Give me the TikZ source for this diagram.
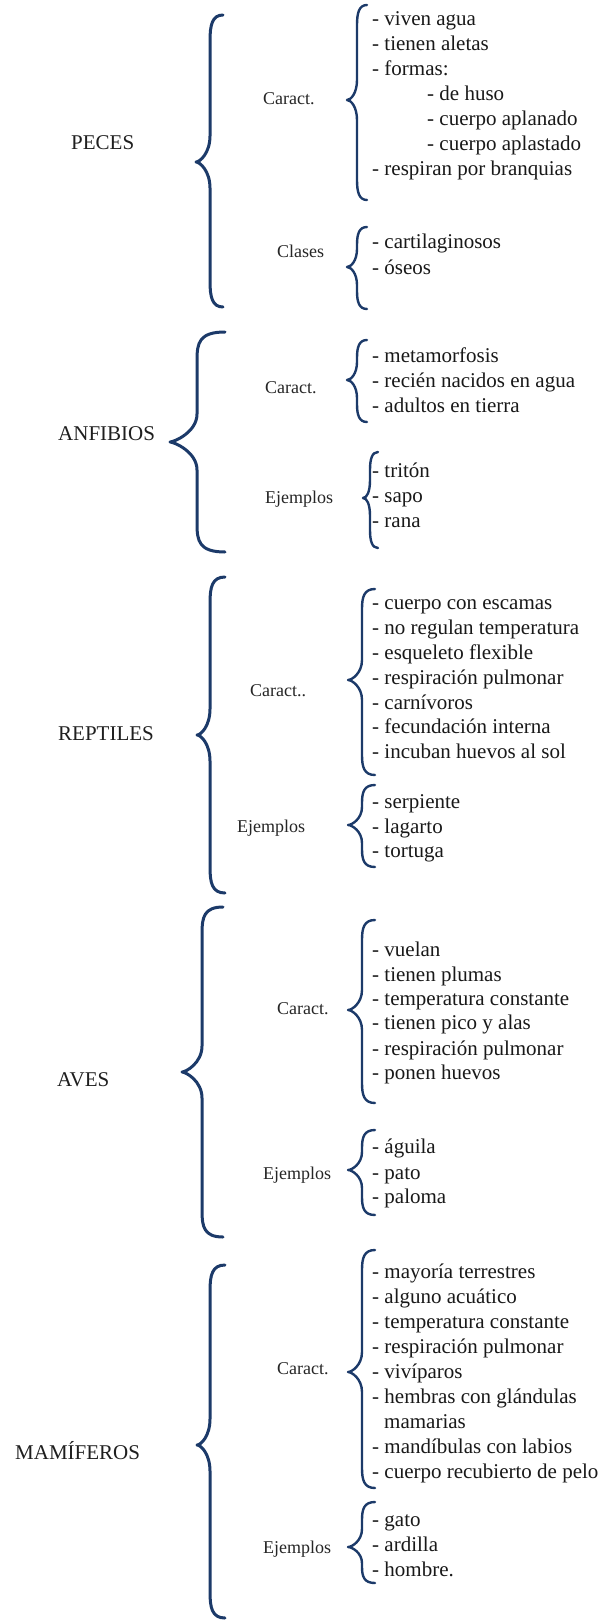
\documentclass[tikz,border=0pt]{standalone}
\usepackage{fontspec}
\setmainfont{Liberation Serif}
\definecolor{navyb}{RGB}{28,58,105}
\tikzset{
  brc/.style={draw=navyb, line width=2.4pt, line cap=round, line join=round},
  bigbrc/.style={brc, line width=3pt},
  item/.style={anchor=base west, inner sep=0pt, font=\fontsize{21}{25}\selectfont, text=black!90},
  cat/.style={anchor=base west, inner sep=0pt, font=\fontsize{21}{25}\selectfont, text=black!88},
  sub/.style={anchor=base west, inner sep=0pt, font=\fontsize{18}{22}\selectfont, text=black!85},
}
% #1 style, #2 tip x, #3 line x, #4 hook x, #5 top y, #6 tip y, #7 bottom y, #8 max curve size
\newcommand{\cbrace}[8]{%
  \pgfmathsetmacro{\hk}{min(#8,(#6-#5)*0.45)}%
  \pgfmathsetmacro{\hl}{min(#8,(#7-#6)*0.45)}%
  \draw[#1] (#4,#5) .. controls ({#3+2},#5) and (#3,{#5+\hk*0.4}) .. (#3,{#5+\hk})
    -- (#3,{#6-\hk}) .. controls (#3,{#6-\hk*0.35}) and ({#2+4},#6) .. (#2,#6)
    .. controls ({#2+4},#6) and (#3,{#6+\hl*0.35}) .. (#3,{#6+\hl})
    -- (#3,{#7-\hl}) .. controls (#3,{#7-\hl*0.4}) and ({#3+2},#7) .. (#4,#7);
}
\begin{document}
\begin{tikzpicture}[x=1pt,y=-1pt]
\fill[white] (0,0) rectangle (603,1621);
\useasboundingbox (0,0) rectangle (603,1621);

% ---------- main labels
\node[cat] (peces) at (71,150) {PECES};
\node[cat] (anfibios) at (58,440) {ANFIBIOS};
\node[cat] (reptiles) at (58,740) {REPTILES};
\node[cat] (aves) at (57,1086) {AVES};
\node[cat] (mamiferos) at (15,1459) {MAMÍFEROS};

% ---------- sub labels
\node[sub] (pcar) at (263,105) {Caract.};
\node[sub] (pcla) at (277,258) {Clases};
\node[sub] (acar) at (265,393) {Caract.};
\node[sub] (aej) at (265,503) {Ejemplos};
\node[sub] (rcar) at (250,696) {Caract..};
\node[sub] (rej) at (237,832) {Ejemplos};
\node[sub] (vcar) at (277,1014) {Caract.};
\node[sub] (vej) at (263,1179) {Ejemplos};
\node[sub] (mcar) at (277,1374) {Caract.};
\node[sub] (mej) at (263,1553) {Ejemplos};

% ---------- big braces
\cbrace{bigbrc}{196}{210}{223}{15}{162}{307}{26}
\cbrace{bigbrc}{170}{197}{225}{332}{442}{552}{28}
\cbrace{bigbrc}{197}{210}{225}{577}{735}{893}{26}
\cbrace{bigbrc}{182}{202}{223}{907}{1072}{1237}{26}
\cbrace{bigbrc}{197}{210}{225}{1265}{1445}{1618}{26}

% ---------- small braces
\cbrace{brc}{347}{357}{367}{5}{100}{200}{20}
\cbrace{brc}{347}{357}{367}{227}{267}{309}{18}
\cbrace{brc}{347}{357}{367}{340}{380}{422}{18}
\cbrace{brc}{363}{370}{378}{452}{498}{548}{18}
\cbrace{brc}{348}{362}{375}{589}{680}{775}{20}
\cbrace{brc}{348}{362}{375}{785}{825}{867}{18}
\cbrace{brc}{348}{362}{375}{920}{1010}{1103}{20}
\cbrace{brc}{348}{362}{375}{1130}{1170}{1215}{18}
\cbrace{brc}{348}{362}{375}{1250}{1372}{1488}{20}
\cbrace{brc}{348}{362}{375}{1502}{1547}{1583}{18}

% ---------- items
\foreach \x/\y/\txt [count=\i] in {372/26/- viven agua, 372/51/- tienen aletas, 372/76/- formas:, 427/101/- de huso, 427/126/- cuerpo aplanado, 427/151/- cuerpo aplastado, 372/176/- respiran por branquias}
  \node[item] (pc\i) at (\x,\y) {\txt};
\foreach \y/\txt [count=\i] in {249/- cartilaginosos, 274/- óseos}
  \node[item] (pl\i) at (372,\y) {\txt};
\foreach \y/\txt [count=\i] in {362/- metamorfosis, 387/- recién nacidos en agua, 412/- adultos en tierra}
  \node[item] (ac\i) at (372,\y) {\txt};
\foreach \y/\txt [count=\i] in {477/- tritón, 502/- sapo, 527/- rana}
  \node[item] (ae\i) at (372,\y) {\txt};
\foreach \y/\txt [count=\i] in {609/- cuerpo con escamas, 634/- no regulan temperatura, 659/- esqueleto flexible, 684/- respiración pulmonar, 709/- carnívoros, 733/- fecundación interna, 758/- incuban huevos al sol}
  \node[item] (rc\i) at (372,\y) {\txt};
\foreach \y/\txt [count=\i] in {808/- serpiente, 833/- lagarto, 857/- tortuga}
  \node[item] (re\i) at (372,\y) {\txt};
\foreach \y/\txt [count=\i] in {956/- vuelan, 981/- tienen plumas, 1005/- temperatura constante, 1029/- tienen pico y alas, 1055/- respiración pulmonar, 1079/- ponen huevos}
  \node[item] (vc\i) at (372,\y) {\txt};
\foreach \y/\txt [count=\i] in {1153/- águila, 1179/- pato, 1203/- paloma}
  \node[item] (ve\i) at (372,\y) {\txt};
\foreach \x/\y/\txt [count=\i] in {372/1278/- mayoría terrestres, 372/1303/- alguno acuático, 372/1328/- temperatura constante, 372/1353/- respiración pulmonar, 372/1378/- vivíparos, 372/1403/- hembras con glándulas, 384/1428/mamarias, 372/1453/- mandíbulas con labios, 372/1478/- cuerpo recubierto de pelo}
  \node[item] (mc\i) at (\x,\y) {\txt};
\foreach \y/\txt [count=\i] in {1526/- gato, 1551/- ardilla, 1576/- hombre.}
  \node[item] (me\i) at (372,\y) {\txt};
\end{tikzpicture}
\end{document}
